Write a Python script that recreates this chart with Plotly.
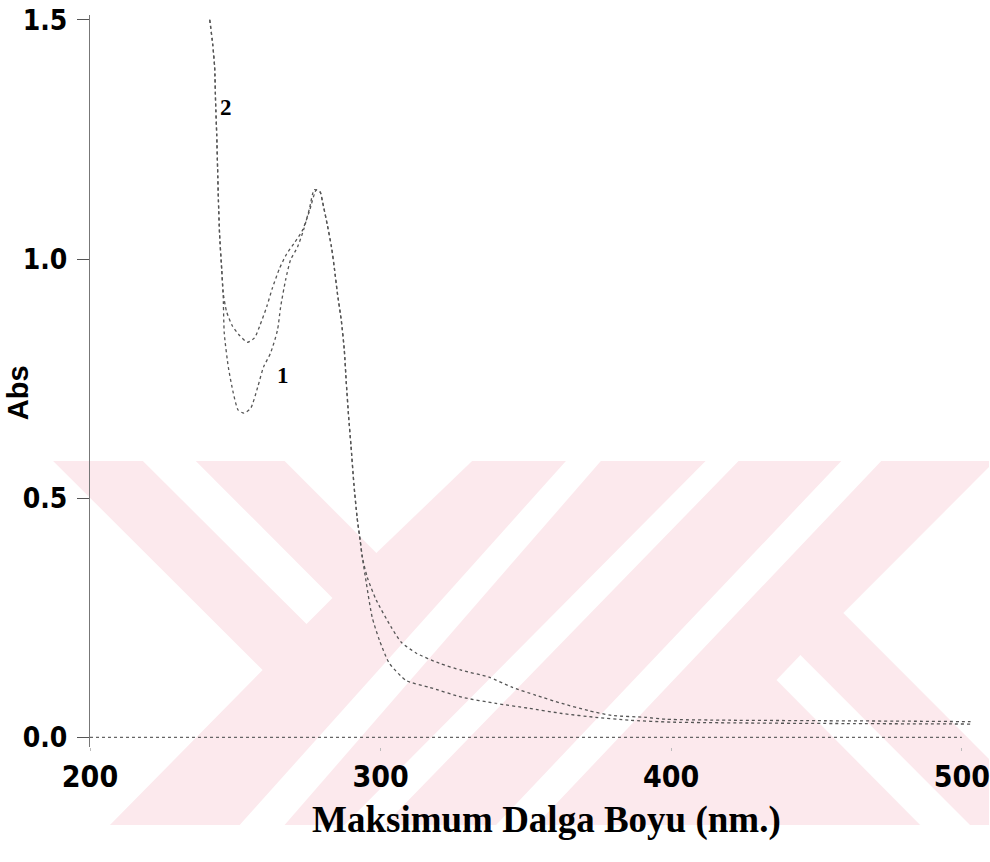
import plotly.graph_objects as go

# ---------------- data ----------------
wl_curve1 = [241.2, 242.2, 242.9, 243.2, 243.6, 243.9, 244.2, 244.6, 245.3, 245.8,
             246.2, 247.6, 249.3, 251.0, 253.0, 255.3, 257.7, 259.7, 262.1, 264.5,
             265.6, 267.3, 269.0, 271.4, 273.5, 275.5, 277.2, 279.2, 280.0, 281.7,
             283.1, 284.1, 285.1, 286.5, 287.5, 288.2, 289.0, 289.8, 290.8, 291.9,
             293.0, 293.7, 295.1, 297.1, 299.6, 303.0, 308.8, 316.7, 328.0, 339.7,
             351.0, 362.4, 374.0, 385.4, 400.0, 430.0, 460.0, 503.0]
abs_curve1 = [1.50, 1.45, 1.40, 1.33, 1.26, 1.19, 1.12, 1.05, 0.98, 0.93,
              0.845, 0.774, 0.720, 0.684, 0.678, 0.688, 0.732, 0.774, 0.803, 0.851,
              0.900, 0.956, 0.998, 1.025, 1.061, 1.105, 1.145, 1.140, 1.120, 1.070,
              1.025, 0.980, 0.930, 0.870, 0.810, 0.740, 0.670, 0.610, 0.530, 0.460,
              0.410, 0.377, 0.322, 0.251, 0.203, 0.155, 0.119, 0.105, 0.084, 0.071,
              0.061, 0.050, 0.042, 0.036, 0.032, 0.030, 0.029, 0.028]

wl_curve2 = [241.2, 242.2, 242.9, 243.2, 243.6, 243.9, 244.2, 244.6, 245.3, 245.8,
             247.0, 249.0, 251.5, 254.2, 256.6, 258.4, 260.8, 262.8, 265.2, 267.6,
             270.5, 273.1, 275.5, 277.9, 279.2, 280.0, 281.7, 283.1, 284.1, 285.1,
             286.5, 287.5, 288.2, 289.0, 289.8, 290.8, 291.9, 293.0, 293.7, 295.4,
             298.5, 303.7, 307.1, 312.3, 320.2, 328.0, 337.3, 345.2, 353.5, 362.4,
             371.6, 379.5, 391.2, 398.1, 420.0, 450.0, 480.0, 503.0]
abs_curve2 = [1.50, 1.45, 1.40, 1.33, 1.26, 1.19, 1.12, 1.05, 0.98, 0.93,
              0.890, 0.860, 0.840, 0.826, 0.835, 0.860, 0.900, 0.940, 0.980, 1.010,
              1.035, 1.060, 1.100, 1.145, 1.140, 1.120, 1.070, 1.025, 0.980, 0.930,
              0.870, 0.810, 0.740, 0.670, 0.610, 0.530, 0.460, 0.410, 0.377, 0.335,
              0.287, 0.230, 0.199, 0.176, 0.155, 0.140, 0.126, 0.105, 0.088, 0.071,
              0.056, 0.046, 0.042, 0.038, 0.036, 0.035, 0.034, 0.033]

baseline_wl = [200, 500]
baseline_abs = [0.0, 0.0]

x_ticks = [200, 300, 400, 500]
y_ticks = [0.0, 0.5, 1.0, 1.5]
y_ticktext = ["0.0", "0.5", "1.0", "1.5"]

curve_labels = ["1", "2"]
label_pos_wl = [266.3, 246.7]
label_pos_abs = [0.757, 1.316]

x_title = "Maksimum Dalga Boyu (nm.)"
y_title = "Abs"

# ---------------- figure ----------------
W, H = 990, 862
ML, MR, MT, MB = 90, 0, 15, 115
PW, PH = W - ML - MR, H - MT - MB

def pp(px, py):
    return (px - ML) / PW, (H - MB - py) / PH

def poly(points):
    pts = [pp(x, y) for x, y in points]
    return "M " + " L ".join(f"{x:.5f},{y:.5f}" for x, y in pts) + " Z"

PINK = "rgb(252,233,237)"
wm_pink = [(53, 461), (991, 461), (991, 825), (110, 825), (263, 670)]
wm_white = [
    [(143, 461), (196, 461), (333, 598), (307, 624)],
    [(285, 461), (473, 461), (377, 553)],
    [(567, 461), (602, 461), (285, 825), (240, 825)],
    [(707, 461), (740, 461), (385, 825), (345, 825)],
    [(843, 461), (883, 461), (537, 825), (497, 825)],
    [(845, 613), (992, 466), (992, 760)],
    [(802, 655), (972, 825), (922, 825), (778, 680)],
]

shapes = [dict(type="path", path=poly(wm_pink), xref="paper", yref="paper",
               fillcolor=PINK, line=dict(width=0), layer="below")]
for w in wm_white:
    shapes.append(dict(type="path", path=poly(w), xref="paper", yref="paper",
                       fillcolor="white", line=dict(width=0), layer="below"))

fig = go.Figure()
fig.add_trace(go.Scatter(x=baseline_wl, y=baseline_abs, mode="lines",
                         line=dict(color="#666", width=1.2, dash="dot"),
                         hoverinfo="skip"))
for wl, ab, nm in [(wl_curve1, abs_curve1, "1"), (wl_curve2, abs_curve2, "2")]:
    fig.add_trace(go.Scatter(x=wl, y=ab, mode="lines", name=nm,
                             line=dict(color="#555", width=1.3, dash="dot",
                                       shape="spline", smoothing=0.6)))

annotations = []
for t, xw, ya in zip(curve_labels, label_pos_wl, label_pos_abs):
    annotations.append(dict(x=xw, y=ya, xref="x", yref="y", text=t, showarrow=False,
                            xanchor="center", yanchor="middle",
                            font=dict(family="Liberation Serif, DejaVu Serif", size=23,
                                      color="black", weight="bold")))
ax, ay = pp(548, 820)
annotations.append(dict(x=ax, y=ay, xref="paper", yref="paper", text=x_title,
                        showarrow=False, xanchor="center", yanchor="middle",
                        font=dict(family="Liberation Serif, DejaVu Serif", size=37,
                                  color="black", weight="bold")))
bx, by = pp(18, 393)
annotations.append(dict(x=bx, y=by, xref="paper", yref="paper", text=y_title,
                        showarrow=False, textangle=-90, xanchor="center", yanchor="middle",
                        font=dict(family="Liberation Sans, Arial", size=29,
                                  color="black", weight="bold")))

tickfont = dict(family="Liberation Sans Narrow, Arial Narrow, DejaVu Sans Condensed, Liberation Sans",
                color="black", weight="bold")

fig.update_layout(
    width=W, height=H,
    margin=dict(l=ML, r=MR, t=MT, b=MB),
    paper_bgcolor="white", plot_bgcolor="rgba(0,0,0,0)",
    showlegend=False,
    shapes=shapes,
    annotations=annotations,
    xaxis=dict(range=[200, 509], tickvals=x_ticks, ticks="outside", ticklen=3,
               tickcolor="#bbb", showline=False, zeroline=False, showgrid=False,
               tickfont=dict(size=30, **tickfont), ticklabelstandoff=0,
               ticklabeloverflow="allow"),
    yaxis=dict(range=[-0.02, 1.51], tickvals=y_ticks, ticktext=y_ticktext,
               ticks="outside", ticklen=12, tickcolor="#555", showline=True,
               linecolor="#777", linewidth=1, zeroline=False, showgrid=False,
               tickfont=dict(size=28, **tickfont), ticklabelstandoff=4),
)

fig.write_html("out.html")
